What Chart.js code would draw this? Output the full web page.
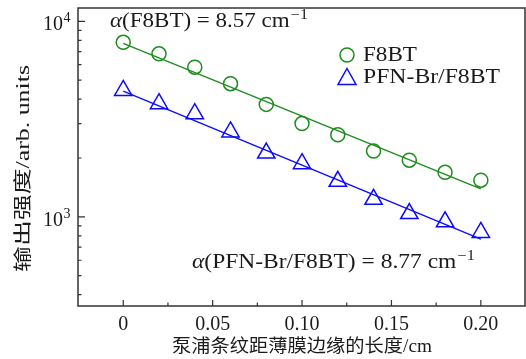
<!DOCTYPE html>
<html>
<head>
<meta charset="utf-8">
<script src="https://cdn.jsdelivr.net/npm/chart.js@4.4.1/dist/chart.umd.min.js"></script>
<style>
    html, body { margin: 0; padding: 0; background: #fff; }
    #wrap { width: 526px; height: 359px; }
</style>
</head>
<body>
<div id="wrap"><canvas id="chart" width="526" height="359"></canvas></div>
<script>
// distance of the pump stripe from the film edge (cm)
const lengths = [0, 0.02, 0.04, 0.06, 0.08, 0.10, 0.12, 0.14, 0.16, 0.18, 0.20];
const f8btValues = [7810, 6820, 5830, 4800, 3760, 3000, 2630, 2170, 1950, 1690, 1540];
const pfnValues = [4430, 3790, 3370, 2720, 2120, 1870, 1520, 1230, 1040, 943, 832];

// fitted lines, read at both ends
const fitX = [0, 0.20];
const f8btFit = [7720, 1390];
const pfnFit = [4400, 770];

const xTicks = [0, 0.025, 0.05, 0.075, 0.10, 0.125, 0.15, 0.175, 0.20];
const xLabels = ['0', '', '0.05', '', '0.10', '', '0.15', '', '0.20'];
const yTicks = [400, 500, 600, 700, 800, 900, 1000, 2000, 3000, 4000, 5000, 6000, 7000, 8000, 9000, 10000];
const yMajor = [1000, 10000];

const GREEN = '#1c8c1c';
const BLUE = '#0a0aff';
const INK = '#1a1a1a';
const SERIF = '"Liberation Serif", "DejaVu Serif", serif';
const CJK = '"Liberation Serif", "Noto Sans CJK SC", serif';

const pts = (xs, ys) => xs.map((x, i) => ({ x, y: ys[i] }));

// draw a run of text pieces (with optional raised superscripts),
// stretched horizontally to a given width, starting at x
function drawRun(ctx, parts, x, y, width) {
    let total = 0;
    parts.forEach(p => {
        ctx.font = p.font;
        p.w = ctx.measureText(p.text).width + (p.after || 0);
        total += p.w;
    });
    ctx.save();
    ctx.translate(x, y);
    ctx.scale(width ? width / total : 1, 1);
    let cx = 0;
    parts.forEach(p => {
        ctx.font = p.font;
        ctx.fillText(p.text, cx, p.dy || 0);
        cx += p.w;
    });
    ctx.restore();
}

const decorPlugin = {
    id: 'decor',
    afterDraw(chart) {
        const { ctx, chartArea: a, scales } = chart;
        const xs = scales.x, ys = scales.y;
        ctx.save();

        // frame
        ctx.strokeStyle = '#333';
        ctx.lineWidth = 1.5;
        ctx.strokeRect(a.left, a.top, a.right - a.left, a.bottom - a.top);

        // inward ticks
        ctx.lineWidth = 1.2;
        ctx.beginPath();
        xTicks.forEach((v, i) => {
            const px = xs.getPixelForValue(v);
            const len = xLabels[i] ? 6 : 3.5;
            ctx.moveTo(px, a.bottom);
            ctx.lineTo(px, a.bottom - len);
        });
        yTicks.forEach(v => {
            const py = ys.getPixelForValue(v);
            const len = yMajor.includes(v) ? 7 : 3.5;
            ctx.moveTo(a.left, py);
            ctx.lineTo(a.left + len, py);
        });
        ctx.stroke();

        // y tick labels 10^n
        ctx.fillStyle = INK;
        ctx.textBaseline = 'alphabetic';
        ctx.textAlign = 'left';
        yMajor.forEach(v => {
            const py = ys.getPixelForValue(v);
            const exp = String(Math.round(Math.log10(v)));
            drawRun(ctx, [
                { text: '10', font: '20px ' + SERIF, after: 0.5 },
                { text: exp, font: '14px ' + SERIF, dy: -8 }
            ], a.left - 35, py + 9);
        });

        // axis titles
        ctx.textBaseline = 'middle';
        drawRun(ctx, [{ text: '泵浦条纹距薄膜边缘的长度/cm', font: '18px ' + CJK }], 172, 347, 260);
        ctx.save();
        ctx.translate(24, 272);
        ctx.rotate(-Math.PI / 2);
        drawRun(ctx, [{ text: '输出强度/arb. units', font: '18px ' + CJK }], 0, 0, 207);
        ctx.restore();

        // annotations
        ctx.textBaseline = 'alphabetic';
        drawRun(ctx, [
            { text: 'α', font: 'italic 20px ' + SERIF },
            { text: '(F8BT) = 8.57 cm', font: '20px ' + SERIF, after: 1 },
            { text: '−1', font: '14px ' + SERIF, dy: -8 }
        ], 110, 27, 198);
        drawRun(ctx, [
            { text: 'α', font: 'italic 20px ' + SERIF },
            { text: '(PFN-Br/F8BT) = 8.77 cm', font: '20px ' + SERIF, after: 1 },
            { text: '−1', font: '14px ' + SERIF, dy: -8 }
        ], 192, 268, 283);

        // legend
        ctx.lineWidth = 1.5;
        ctx.strokeStyle = GREEN;
        ctx.beginPath();
        ctx.arc(347, 55, 7, 0, Math.PI * 2);
        ctx.stroke();
        ctx.strokeStyle = BLUE;
        ctx.beginPath();
        ctx.moveTo(347, 68.5);
        ctx.lineTo(356, 84.5);
        ctx.lineTo(338, 84.5);
        ctx.closePath();
        ctx.stroke();
        ctx.fillStyle = INK;
        ctx.textBaseline = 'middle';
        drawRun(ctx, [{ text: 'F8BT', font: '20px ' + SERIF }], 363, 56, 54);
        drawRun(ctx, [{ text: 'PFN-Br/F8BT', font: '20px ' + SERIF }], 363, 78, 137);

        ctx.restore();
    }
};

new Chart(document.getElementById('chart'), {
    type: 'scatter',
    data: {
        datasets: [
            {
                label: 'F8BT fit',
                data: pts(fitX, f8btFit),
                showLine: true,
                borderColor: GREEN,
                borderWidth: 1.3,
                pointRadius: 0
            },
            {
                label: 'PFN-Br/F8BT fit',
                data: pts(fitX, pfnFit),
                showLine: true,
                borderColor: BLUE,
                borderWidth: 1.3,
                pointRadius: 0
            },
            {
                label: 'F8BT',
                data: pts(lengths, f8btValues),
                pointStyle: 'circle',
                pointRadius: 7,
                pointBorderWidth: 1.5,
                borderColor: GREEN,
                backgroundColor: 'rgba(0,0,0,0)'
            },
            {
                label: 'PFN-Br/F8BT',
                data: pts(lengths, pfnValues),
                pointStyle: 'triangle',
                pointRadius: 10,
                pointBorderWidth: 1.5,
                borderColor: BLUE,
                backgroundColor: 'rgba(0,0,0,0)'
            }
        ]
    },
    options: {
        responsive: false,
        animation: false,
        devicePixelRatio: 1,
        layout: { autoPadding: false, padding: { top: 8, right: 1, left: 0, bottom: 0 } },
        plugins: { legend: { display: false }, tooltip: { enabled: false } },
        scales: {
            x: {
                type: 'linear',
                min: -0.0253,
                max: 0.2247,
                grid: { display: false, drawTicks: false },
                border: { display: false },
                afterBuildTicks: s => { s.ticks = xTicks.map(v => ({ value: v })); },
                afterFit: s => { s.height = 53; s.paddingLeft = 0; s.paddingRight = 0; },
                ticks: {
                    autoSkip: false,
                    maxRotation: 0,
                    padding: 7,
                    color: INK,
                    font: { family: SERIF, size: 20 },
                    callback: (v, i) => xLabels[i]
                }
            },
            y: {
                type: 'logarithmic',
                min: 350,
                max: 11700,
                grid: { display: false, drawTicks: false },
                border: { display: false },
                ticks: { display: false },
                afterFit: s => { s.width = 78; s.paddingTop = 0; s.paddingBottom = 0; }
            }
        }
    },
    plugins: [decorPlugin]
});
</script>
</body>
</html>
